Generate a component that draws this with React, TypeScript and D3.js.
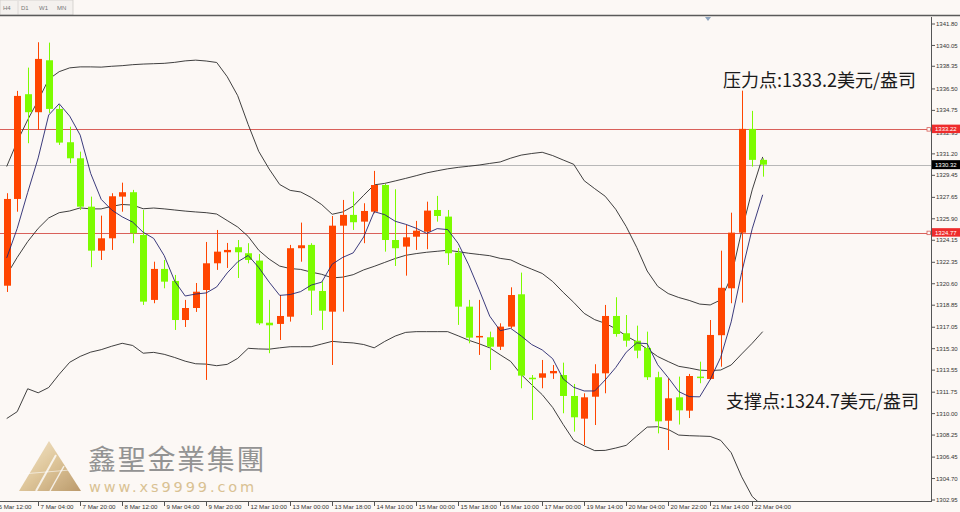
import React from "react";
import * as d3 from "d3";

// ---------- data ----------
const candleOpen = [1320.44,1327.52,1336.07,1334.60,1338.84,1334.87,1332.15,1330.84,1326.89,1323.30,1324.31,1327.71,1328.07,1324.58,1319.28,1321.81,1320.83,1317.64,1318.62,1320.09,1322.27,1323.17,1323.58,1323.09,1322.49,1317.42,1317.32,1317.91,1323.50,1323.77,1320.01,1318.32,1325.34,1326.22,1325.67,1326.48,1328.66,1324.17,1323.63,1324.44,1324.85,1326.62,1326.08,1323.14,1318.73,1316.23,1316.23,1315.46,1317.10,1319.74,1312.93,1312.93,1313.29,1313.15,1311.44,1309.59,1311.38,1313.29,1317.97,1316.56,1315.95,1315.36,1312.97,1309.42,1311.33,1310.24,1313.02,1312.83,1316.40,1320.23,1324.77,1333.24,1330.71];
const candleHigh = [1327.99,1336.34,1338.24,1340.31,1340.28,1335.19,1333.42,1331.38,1327.71,1326.16,1327.99,1328.85,1328.26,1326.62,1322.40,1322.54,1321.32,1319.28,1320.66,1324.01,1324.99,1323.93,1324.17,1323.91,1323.03,1319.28,1319.68,1323.77,1325.59,1323.91,1320.77,1326.13,1327.44,1328.12,1327.17,1329.81,1328.75,1328.31,1325.40,1325.73,1327.30,1327.77,1326.62,1323.52,1319.28,1319.28,1316.69,1317.37,1320.31,1321.51,1313.15,1314.38,1313.97,1314.16,1312.42,1311.66,1314.03,1318.87,1319.50,1318.05,1317.18,1316.69,1313.42,1312.88,1313.02,1313.24,1314.24,1317.64,1323.30,1326.40,1336.36,1334.71,1330.84];
const candleLow = [1319.93,1326.48,1332.07,1333.15,1334.54,1331.93,1330.44,1326.62,1321.95,1322.54,1323.36,1326.48,1323.91,1318.87,1319.01,1320.23,1316.83,1317.07,1318.30,1312.75,1321.73,1321.89,1321.07,1322.27,1317.24,1314.93,1316.01,1317.51,1322.40,1318.05,1316.83,1313.97,1318.32,1324.99,1323.91,1326.35,1323.22,1322.05,1321.26,1323.36,1323.42,1325.67,1322.13,1317.24,1315.74,1314.79,1313.56,1315.19,1316.97,1312.07,1309.48,1312.07,1312.83,1310.03,1308.53,1307.44,1309.07,1311.66,1316.28,1315.46,1314.52,1312.75,1308.39,1307.03,1309.11,1309.64,1312.48,1312.75,1313.83,1319.01,1319.06,1330.16,1329.34];
const candleClose = [1327.52,1335.93,1334.60,1338.95,1334.87,1332.12,1330.84,1326.89,1323.30,1324.31,1327.74,1328.07,1324.72,1319.14,1321.81,1320.77,1317.64,1318.62,1319.95,1322.27,1323.22,1323.36,1323.17,1322.54,1317.37,1317.21,1317.97,1323.50,1323.74,1320.04,1318.40,1325.34,1326.22,1325.62,1326.54,1328.66,1324.17,1323.50,1324.39,1324.93,1326.57,1326.13,1323.09,1318.73,1316.20,1316.34,1315.46,1317.10,1319.68,1313.10,1312.85,1313.29,1313.48,1311.44,1309.70,1311.33,1313.29,1317.97,1316.50,1315.95,1315.14,1312.97,1309.37,1311.25,1310.27,1313.07,1312.91,1316.42,1320.27,1324.77,1333.24,1330.71,1330.32];

const maLine = [1322.71,1325.11,1328.05,1330.87,1334.37,1335.29,1334.28,1332.73,1329.60,1327.49,1326.62,1326.06,1325.63,1324.80,1324.30,1322.90,1320.82,1319.60,1319.76,1319.85,1320.34,1321.48,1322.39,1322.91,1321.93,1320.73,1319.65,1319.72,1319.96,1320.49,1320.73,1322.20,1322.75,1323.12,1324.42,1326.48,1326.24,1325.70,1325.45,1325.13,1324.71,1325.10,1325.02,1323.89,1322.14,1320.10,1317.96,1316.77,1316.96,1316.34,1315.64,1315.20,1314.48,1312.83,1312.15,1311.85,1311.85,1312.75,1313.76,1315.01,1315.77,1315.71,1313.99,1312.94,1311.80,1311.39,1311.37,1312.78,1314.59,1317.49,1321.52,1325.08,1327.86];
const bandUpper = [1330.17,1332.20,1333.98,1335.57,1337.29,1337.91,1338.22,1338.30,1338.30,1338.28,1338.35,1338.40,1338.48,1338.53,1338.56,1338.59,1338.67,1338.79,1338.85,1338.78,1338.66,1337.50,1335.95,1333.59,1331.41,1329.96,1328.70,1328.22,1328.09,1327.64,1327.06,1326.27,1326.46,1326.93,1327.82,1328.67,1328.79,1328.99,1329.20,1329.42,1329.65,1329.82,1329.98,1330.10,1330.19,1330.29,1330.42,1330.54,1330.85,1331.10,1331.23,1331.33,1331.06,1330.70,1330.35,1329.01,1328.36,1327.74,1326.68,1325.27,1323.57,1321.64,1320.39,1319.80,1319.48,1319.24,1318.94,1318.87,1319.28,1321.15,1324.91,1328.26,1330.95];
const bandMiddle = [1321.32,1322.75,1324.04,1325.12,1325.97,1326.40,1326.54,1326.79,1326.71,1326.71,1326.92,1327.07,1327.02,1326.72,1326.78,1326.71,1326.62,1326.53,1326.46,1326.40,1326.29,1325.76,1325.23,1324.46,1323.34,1322.61,1322.04,1321.84,1321.77,1321.55,1321.37,1321.08,1321.14,1321.34,1321.73,1322.02,1322.34,1322.66,1322.92,1323.06,1323.17,1323.25,1323.33,1323.22,1323.09,1322.99,1322.89,1322.67,1322.55,1322.14,1321.79,1321.44,1320.78,1319.90,1319.08,1318.18,1317.67,1317.37,1316.93,1316.34,1315.86,1315.27,1314.66,1314.25,1313.86,1313.72,1313.55,1313.51,1313.56,1313.97,1314.87,1315.74,1316.69];
const bandLower = [1309.60,1310.16,1312.03,1311.70,1312.13,1313.21,1314.19,1314.67,1315.02,1315.22,1315.50,1315.74,1315.56,1314.93,1315.00,1314.84,1314.58,1314.28,1314.07,1314.04,1313.91,1314.02,1314.51,1315.33,1315.28,1315.26,1315.37,1315.46,1315.46,1315.46,1315.68,1315.90,1315.82,1315.77,1315.64,1315.37,1315.89,1316.33,1316.63,1316.69,1316.69,1316.69,1316.69,1316.35,1315.99,1315.70,1315.37,1314.80,1314.26,1313.19,1312.36,1311.55,1310.50,1309.11,1307.82,1307.37,1306.98,1307.00,1307.19,1307.41,1308.17,1308.90,1308.93,1308.71,1308.25,1308.20,1308.17,1308.14,1307.82,1306.81,1304.84,1303.24,1302.46];

const priceTicks = ["1341.80","1340.05","1338.35","1336.50","1334.75","1332.95","1331.20","1329.45","1327.65","1325.90","1324.15","1322.35","1320.60","1318.85","1317.05","1315.30","1313.55","1311.75","1310.00","1308.25","1306.45","1304.70","1302.95"];
const timeLabels = ["6 Mar 12:00","7 Mar 04:00","7 Mar 20:00","8 Mar 12:00","9 Mar 04:00","9 Mar 20:00","12 Mar 10:00","13 Mar 00:00","13 Mar 18:00","14 Mar 10:00","15 Mar 00:00","15 Mar 18:00","16 Mar 10:00","17 Mar 00:00","19 Mar 14:00","20 Mar 04:00","20 Mar 22:00","21 Mar 14:00","22 Mar 04:00"];
const tabLabels = ["H4", "D1", "W1", "MN"];
const resistanceLevel = 1333.22;
const supportLevel = 1324.77;
const lastPrice = 1330.32;
const resistanceText = "压力点:1333.2美元/盎司";
const supportText = "支撑点:1324.7美元/盎司";
const brandName = "鑫聖金業集團";
const brandUrl = "www.xs9999.com";

// ---------- layout ----------
const W = 960, H = 512;
const plotLeft = 0, plotRight = 931, plotTop = 17, plotBottom = 501;
const BULL = "#ff4500";
const BEAR = "#7cfc00";
const AXIS_FONT = "'Liberation Sans', Arial, sans-serif";

export default function App() {
  const n = candleClose.length;
  const x = d3.scaleLinear().domain([0, n - 1]).range([6.7, 762.7]);
  const y = d3.scaleLinear().domain([1302.95, 1341.80]).range([500, 24]);
  const line = d3.line<number>().x((_, i) => x(i)).y((d) => y(d));
  const bodyW = 7;

  return (
    <svg width={W} height={H} style={{ position: "fixed", left: 0, top: 0, display: "block" }}>
      <defs>
        <clipPath id="plot">
          <rect x={plotLeft} y={plotTop} width={plotRight - plotLeft} height={plotBottom - plotTop} />
        </clipPath>
        <linearGradient id="gold" x1="0" y1="0" x2="1" y2="1">
          <stop offset="0" stopColor="#f4e6c8" />
          <stop offset="0.5" stopColor="#d9bd8a" />
          <stop offset="1" stopColor="#b08a55" />
        </linearGradient>
      </defs>
      <rect x={0} y={0} width={W} height={H} fill="#fcf8f5" />

      {/* tabs */}
      <rect x={0} y={0} width={73} height={15} fill="#f4f1ee" stroke="#d0ccc8" strokeWidth={0.8} />
      <line x1={18} y1={1} x2={18} y2={15} stroke="#d8d4d0" strokeWidth={0.8} />
      {tabLabels.map((t, i) => (
        <text key={t} x={3 + i * 18} y={10} fontSize={6} fill="#777" fontFamily={AXIS_FONT}>{t}</text>
      ))}
      <line x1={0} y1={15.5} x2={W} y2={15.5} stroke="#5a5a5a" strokeWidth={1.6} />
      <path d="M705,17 L711,17 L708,21 Z" fill="#8da3bd" />

      {/* watermark */}
      <g opacity={0.95}>
        <path d="M49,441 L81,491 L19,491 Z" fill="url(#gold)" opacity={0.9} />
        <line x1={36} y1={491} x2={56} y2={455} stroke="#fff" strokeWidth={2} opacity={0.8} />
        <line x1={50} y1={491} x2={64} y2={466} stroke="#fff" strokeWidth={1.5} opacity={0.8} />
        <line x1={22} y1={474} x2={70} y2={470} stroke="#fff" strokeWidth={1} opacity={0.6} />
        <text x={88} y={470} fontSize={28} fill="#8e8e8e" letterSpacing={1.7} fontFamily="'Noto Sans CJK TC', 'Noto Sans CJK SC', sans-serif">{brandName}</text>
        <text x={89} y={492} fontSize={14.5} fill="#d8bf8e" letterSpacing={2.9} fontFamily="'DejaVu Sans', sans-serif">{brandUrl}</text>
      </g>

      <g clipPath="url(#plot)">
        {/* level lines */}
        <line x1={plotLeft} x2={plotRight} y1={Math.round(y(lastPrice)) + 0.5} y2={Math.round(y(lastPrice)) + 0.5} stroke="#b8b8b8" strokeWidth={1} />
        <line x1={plotLeft} x2={plotRight} y1={Math.round(y(resistanceLevel)) + 0.5} y2={Math.round(y(resistanceLevel)) + 0.5} stroke="#d9605a" strokeWidth={1} />
        <line x1={plotLeft} x2={plotRight} y1={Math.round(y(supportLevel)) + 0.5} y2={Math.round(y(supportLevel)) + 0.5} stroke="#d9605a" strokeWidth={1} />

        {/* bands */}
        <path d={line(bandUpper) || ""} fill="none" stroke="#2a2a2a" strokeWidth={0.9} />
        <path d={line(bandMiddle) || ""} fill="none" stroke="#2a2a2a" strokeWidth={0.9} />
        <path d={line(bandLower) || ""} fill="none" stroke="#2a2a2a" strokeWidth={0.9} />

        {/* candles */}
        {candleClose.map((c, i) => {
          const o = candleOpen[i];
          const bull = c >= o;
          const col = bull ? BULL : BEAR;
          const top = y(Math.max(o, c));
          const bot = y(Math.min(o, c));
          const cx = Math.round(x(i)) + 0.5;
          return (
            <g key={i}>
              <line x1={cx} x2={cx} y1={y(candleHigh[i])} y2={y(candleLow[i])} stroke={col} strokeWidth={1} />
              <rect x={cx - bodyW / 2} y={top} width={bodyW} height={Math.max(1.5, bot - top)} fill={col} />
            </g>
          );
        })}

        <path d={line(maLine) || ""} fill="none" stroke="#26266e" strokeWidth={0.9} />
      </g>

      {/* axes frame */}
      <line x1={plotRight + 0.5} x2={plotRight + 0.5} y1={plotTop} y2={plotBottom} stroke="#555" strokeWidth={1} />
      <line x1={0} x2={plotRight + 1} y1={plotBottom + 0.5} y2={plotBottom + 0.5} stroke="#555" strokeWidth={1} />

      {/* right axis */}
      {priceTicks.map((t) => {
        const ty = y(+t);
        return (
          <g key={t}>
            <line x1={plotRight + 1} x2={plotRight + 4} y1={ty} y2={ty} stroke="#555" strokeWidth={1} />
            <text x={936} y={ty} dy="0.35em" fontSize={6} fill="#333" fontFamily={AXIS_FONT}>{t}</text>
          </g>
        );
      })}
      {[resistanceLevel, supportLevel].map((v) => (
        <g key={v}>
          <rect x={927} y={y(v) - 1.5} width={3.5} height={3.5} fill="#fcf8f5" stroke="#d9605a" strokeWidth={0.8} />
          <rect x={932} y={y(v) - 4.5} width={28} height={8.5} fill="#ee2c2c" />
          <text x={935} y={y(v)} dy="0.33em" fontSize={6} fill="#fff" fontFamily={AXIS_FONT}>{v.toFixed(2)}</text>
        </g>
      ))}
      <rect x={932} y={y(lastPrice) - 4.5} width={28} height={9} fill="#000" />
      <text x={935} y={y(lastPrice)} dy="0.35em" fontSize={6} fill="#fff" fontFamily={AXIS_FONT}>{lastPrice.toFixed(2)}</text>

      {/* bottom axis */}
      {timeLabels.map((t, k) => {
        const tx = Math.round(x(4 * k - 1)) + 0.5;
        return (
          <g key={t}>
            <line x1={tx} x2={tx} y1={plotBottom + 1} y2={plotBottom + 5} stroke="#555" strokeWidth={1} />
            <text x={tx + 2} y={509} fontSize={6.2} fill="#333" fontFamily={AXIS_FONT}>{t}</text>
          </g>
        );
      })}

      {/* annotations */}
      <text x={723} y={87} fontSize={18} fill="#1a1a1a" fontFamily="'Noto Sans CJK SC', sans-serif">{resistanceText}</text>
      <text x={726} y={408} fontSize={18} fill="#1a1a1a" fontFamily="'Noto Sans CJK SC', sans-serif">{supportText}</text>
    </svg>
  );
}
